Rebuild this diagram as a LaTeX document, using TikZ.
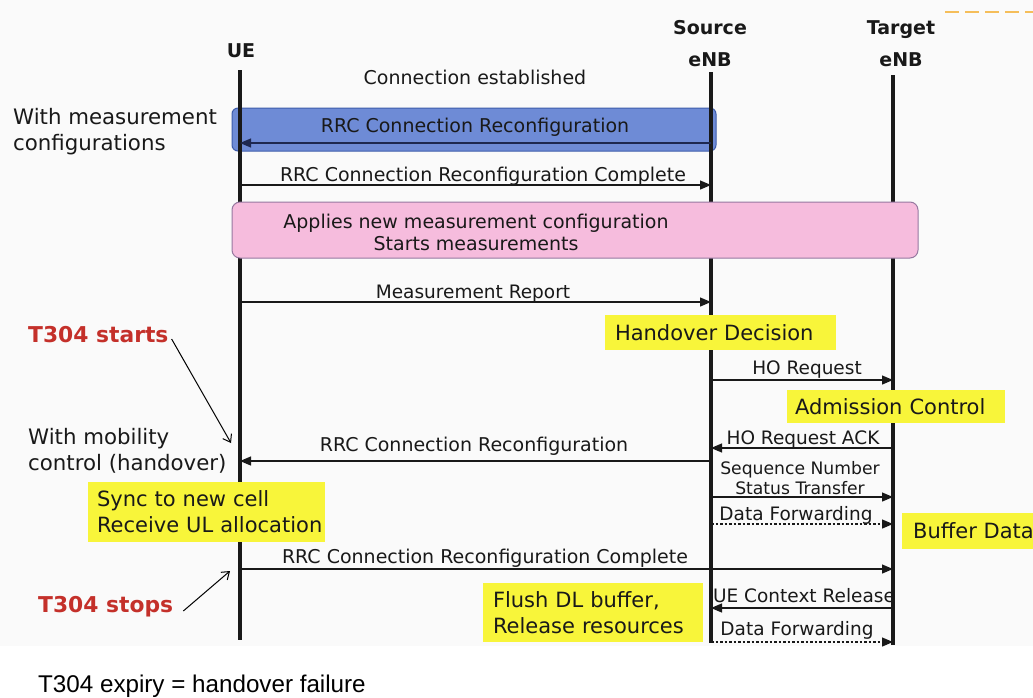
\documentclass[tikz,border=0pt]{standalone}
\usepackage{fontspec}
\setmainfont{DejaVu Sans}
\newfontfamily\arialfont{Liberation Sans}
\usetikzlibrary{arrows.meta}
\definecolor{bgcol}{RGB}{250,250,250}
\definecolor{bluefill}{RGB}{110,139,214}
\definecolor{blueedge}{RGB}{62,92,170}
\definecolor{bluearrow}{RGB}{30,40,80}
\definecolor{pinkfill}{RGB}{246,188,221}
\definecolor{pinkedge}{RGB}{150,120,160}
\definecolor{yel}{RGB}{248,245,58}
\definecolor{redtxt}{RGB}{196,48,42}
\definecolor{linecol}{RGB}{25,25,25}
\definecolor{txtcol}{RGB}{25,25,25}
\definecolor{orangeart}{RGB}{245,190,90}
\begin{document}
\begin{tikzpicture}[x=1pt,y=-1pt,
  every node/.style={inner sep=0pt, text=txtcol},
  hdr/.style={font=\fontsize{19}{32}\selectfont\bfseries, align=center},
  msg/.style={font=\fontsize{18.5}{20.5}\selectfont, align=center},
  bigmsg/.style={font=\fontsize{19}{21}\selectfont, align=center},
  side/.style={font=\fontsize{21.3}{26}\selectfont, align=left, anchor=west},
  redlab/.style={font=\fontsize{21.8}{24}\selectfont\bfseries, text=redtxt, anchor=west},
  ybox/.style={fill=yel, font=\fontsize{21}{26}\selectfont, align=left, inner ysep=0pt},
  life/.style={draw=linecol, line width=3.2pt},
  arr/.style={draw=linecol, line width=1.2pt, -{Triangle[length=11pt,width=9pt]}},
  darr/.style={arr, dashed, dash pattern=on 2.5pt off 2pt},
  pointer/.style={draw=black, line width=1pt, -{Straight Barb[length=7pt,width=10pt]}}
]
\useasboundingbox (0,0) rectangle (1033,697);
\fill[bgcol] (0,0) rectangle (1033,646);
\draw[orangeart, line width=1.5pt, dash pattern=on 14pt off 6pt] (945,12) -- (1033,12);

% lifeline end points
\coordinate (ueT) at (240,70);   \coordinate (ueB) at (240,640);
\coordinate (srcT) at (711,72);  \coordinate (srcB) at (711,643);
\coordinate (tgtT) at (893,75);  \coordinate (tgtB) at (893,645);

% blue box (under lifelines)
\node[draw=blueedge, fill=bluefill, line width=1pt, rounded corners=6pt,
      minimum width=484, minimum height=43] (bluebox) at (474,129.5) {};

% headers
\node[hdr] (ueh) at (241,51) {UE};
\node[hdr] (srch) at (710,44) {Source\\eNB};
\node[hdr] (tgth) at (901,44) {Target\\eNB};

% message labels
\node[bigmsg] (conn) at (475,77) {Connection established};
\node[bigmsg] (rrc1) at (475,127) {RRC Connection Reconfiguration};
\node[bigmsg] (rrcc1) at (483,176) {RRC Connection Reconfiguration Complete};
\node[msg] (mr) at (473,294) {Measurement Report};
\node[msg] (hor) at (807,370) {HO Request};
\node[msg] (hoack) at (803,440) {HO Request ACK};
\node[bigmsg] (rrc2) at (474,446) {RRC Connection Reconfiguration};
\node[msg, font=\fontsize{17.2}{20.5}\selectfont] (snst) at (800,478) {Sequence Number\\Status Transfer};
\node[msg] (df1) at (796,515) {Data Forwarding};
\node[bigmsg] (rrcc2) at (485,558) {RRC Connection Reconfiguration Complete};
\node[msg] (uecr) at (804,596) {UE Context Release};
\node[msg] (df2) at (797,630) {Data Forwarding};

% side labels
\node[side] (wmc) at (13,132) {With measurement\\configurations};
\node[side] (wmob) at (28,451) {With mobility\\control (handover)};
\node[redlab] (t304s) at (28,335) {T304 starts};
\node[redlab] (t304e) at (38,607) {T304 stops};
\node[anchor=west, font=\arialfont\fontsize{24.2}{28}\selectfont, text=black] (expiry) at (38,686) {T304 expiry = handover failure};

% lifelines
\draw[life] (ueT) -- (ueB);
\draw[life] (srcT) -- (srcB);
\draw[life] (tgtT) -- (tgtB);

% pink box (over lifelines)
\node[draw=pinkedge, fill=pinkfill, line width=1pt, rounded corners=8pt,
      minimum width=686, minimum height=56] (pinkbox) at (575,230) {};
\node[font=\fontsize{19}{22}\selectfont, align=center] (pinktxt) at (476,232)
  {Applies new measurement configuration\\Starts measurements};

% yellow boxes (over lifelines)
\node[ybox, minimum width=231, minimum height=35, text width=211, inner xsep=10pt] (hod) at (720.5,332.5) {Handover Decision};
\node[ybox, minimum width=218, minimum height=33, text width=202, inner xsep=8pt] (adm) at (896,406.5) {Admission Control};
\node[ybox, minimum height=36, inner xsep=11pt, anchor=west] (buf) at (902,531) {Buffer Data};
\node[ybox, minimum width=237, minimum height=60, text width=219, inner xsep=9pt] (sync) at (206.5,512) {\mbox{Sync to new cell}\\\mbox{Receive UL allocation}};
\node[ybox, minimum width=220, minimum height=59, text width=200, inner xsep=10pt] (flush) at (593,612.5) {\mbox{Flush DL buffer,}\\\mbox{Release resources}};

% message arrow end points
\coordinate (a1s) at (711,143); \coordinate (a1u) at (240,143);
\coordinate (a2u) at (240,185); \coordinate (a2s) at (711,185);
\coordinate (a3u) at (240,302); \coordinate (a3s) at (711,302);
\coordinate (a4s) at (711,380); \coordinate (a4t) at (893,380);
\coordinate (a5t) at (893,448); \coordinate (a5s) at (711,448);
\coordinate (a6s) at (711,461); \coordinate (a6u) at (240,461);
\coordinate (a7s) at (711,497); \coordinate (a7t) at (893,497);
\coordinate (a8s) at (711,524); \coordinate (a8t) at (893,524);
\coordinate (a9u) at (240,569); \coordinate (a9t) at (893,569);
\coordinate (a10t) at (893,608); \coordinate (a10s) at (711,608);
\coordinate (a11s) at (711,642); \coordinate (a11t) at (893,642);

\draw[arr, draw=bluearrow] (a1s) -- (a1u);
\draw[arr] (a2u) -- (a2s);
\draw[arr] (a3u) -- (a3s);
\draw[arr] (a4s) -- (a4t);
\draw[arr] (a5t) -- (a5s);
\draw[arr] (a6s) -- (a6u);
\draw[arr] (a7s) -- (a7t);
\draw[darr] (a8s) -- (a8t);
\draw[arr] (a9u) -- (a9t);
\draw[arr] (a10t) -- (a10s);
\draw[darr] (a11s) -- (a11t);

% T304 pointers
\coordinate (p1) at (231,443);
\coordinate (p2) at (230,571);
\draw[pointer] (t304s.east) ++(3,4) coordinate (p1s) -- (p1);
\draw[pointer] (t304e.east) ++(10,4) coordinate (p2s) -- (p2);
\end{tikzpicture}
\end{document}
